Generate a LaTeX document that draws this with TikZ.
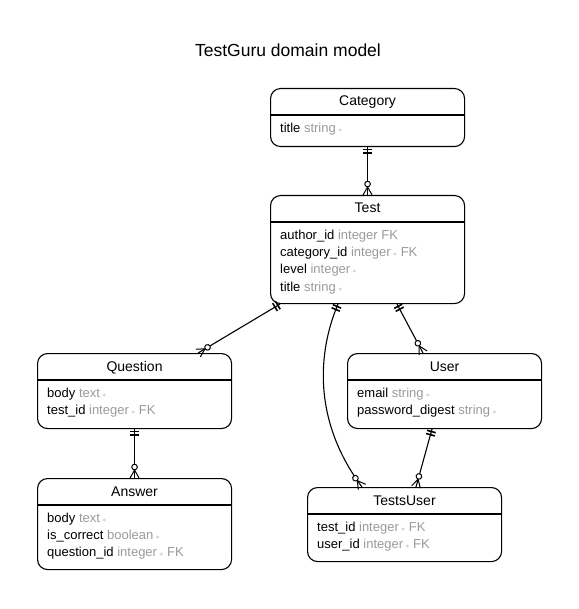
\documentclass[tikz,border=0pt]{standalone}
\usepackage{fontspec}
\setmainfont{Liberation Sans}
\usetikzlibrary{arrows.meta,positioning}

\definecolor{typegray}{HTML}{9A9A9A}
\definecolor{stargray}{HTML}{B0B0B0}

% crow's foot ends
\pgfdeclarearrow{
  name = onlyone,
  setup code = {
    \pgfarrowssettipend{0pt}
    \pgfarrowssetlineend{0pt}
    \pgfarrowssetbackend{-8pt}
    \pgfarrowshullpoint{0pt}{4.5pt}
    \pgfarrowshullpoint{0pt}{-4.5pt}
    \pgfarrowshullpoint{-8pt}{4.5pt}
    \pgfarrowshullpoint{-8pt}{-4.5pt}
  },
  drawing code = {
    \pgfsetlinewidth{1.6pt}
    \pgfsetbuttcap
    \pgfpathmoveto{\pgfqpoint{-2.5pt}{4.5pt}}
    \pgfpathlineto{\pgfqpoint{-2.5pt}{-4.5pt}}
    \pgfpathmoveto{\pgfqpoint{-5.8pt}{4.5pt}}
    \pgfpathlineto{\pgfqpoint{-5.8pt}{-4.5pt}}
    \pgfusepathqstroke
  }
}
\pgfdeclarearrow{
  name = zeromany,
  setup code = {
    \pgfarrowssettipend{0pt}
    \pgfarrowssetlineend{0pt}
    \pgfarrowssetbackend{-14pt}
    \pgfarrowshullpoint{0pt}{4.5pt}
    \pgfarrowshullpoint{0pt}{-4.5pt}
    \pgfarrowshullpoint{-14pt}{3pt}
    \pgfarrowshullpoint{-14pt}{-3pt}
  },
  drawing code = {
    \pgfsetlinewidth{1pt}
    \pgfsetmiterjoin
    \pgfpathmoveto{\pgfqpoint{0pt}{4.5pt}}
    \pgfpathlineto{\pgfqpoint{-8pt}{0pt}}
    \pgfpathlineto{\pgfqpoint{0pt}{-4.5pt}}
    \pgfusepathqstroke
    \pgfsetfillcolor{white}
    \pgfpathcircle{\pgfqpoint{-11pt}{0pt}}{2.8pt}
    \pgfusepathqfillstroke
  }
}

\tikzset{
  entity/.style={draw, line width=1.1pt, rounded corners=10pt, minimum width=194pt, inner sep=0pt, anchor=north west},
  ehead/.style={font=\fontsize{14}{16}\selectfont, anchor=base, inner sep=0pt},
  ebody/.style={font=\fontsize{13}{17.4}\selectfont, align=left, anchor=north west, inner sep=0pt},
  rel/.style={line width=1.1pt, onlyone-zeromany}
}

\newcommand{\ty}[1]{\textcolor{typegray}{#1}}
\newcommand{\req}{\,{\color{stargray}\fontsize{8}{8}\selectfont$\ast$}}
% name, top left, height, title, fields
\newcommand{\entity}[5]{%
  \node[entity, minimum height=#3pt] (#1) at (#2) {};
  \node[ehead] (#1-title) at ([yshift=-18pt]#1.north) {#4};
  \draw[line width=1.1pt] ([yshift=-27pt]#1.north west) -- ([yshift=-27pt]#1.north east);
  \node[ebody] (#1-fields) at ([xshift=10pt,yshift=-34.5pt]#1.north west) {#5};
}

\begin{document}
\begin{tikzpicture}[x=1pt,y=-1pt]
    \useasboundingbox (0,0) rectangle (578,609);
    \node[font=\fontsize{17.5}{20}\selectfont, anchor=base] (title) at (288,57) {TestGuru domain model};

    \entity{category}{270,88}{58}{Category}{title \ty{string\req}}
    \entity{test}{270,195}{108}{Test}{author\_id \ty{integer FK}\\
        category\_id \ty{integer\req{} FK}\\
        level \ty{integer\req}\\
        title \ty{string\req}}
    \entity{question}{37,353}{75}{Question}{body \ty{text\req}\\
        test\_id \ty{integer\req{} FK}}
    \entity{answer}{37,478}{91}{Answer}{body \ty{text\req}\\
        is\_correct \ty{boolean\req}\\
        question\_id \ty{integer\req{} FK}}
    \entity{user}{347,353}{75}{User}{email \ty{string\req}\\
        password\_digest \ty{string\req}}
    \entity{tsuser}{307,487}{74}{TestsUser}{test\_id \ty{integer\req{} FK}\\
        user\_id \ty{integer\req{} FK}}

    \draw[rel] (category.south) -- (test.north);
    \draw[rel] ([xshift=10pt]test.south west) -- ([xshift=-34pt]question.north east);
    \draw[rel] ([xshift=68pt]test.south west) .. controls +(-20,47) and +(-50,-67) .. ([xshift=55pt]tsuser.north west);
    \draw[rel] ([xshift=127pt]test.south west) -- ([xshift=76pt]user.north west);
    \draw[rel] ([xshift=85pt]user.south west) -- ([xshift=109pt]tsuser.north west);
    \draw[rel] (question.south) -- (answer.north);
\end{tikzpicture}
\end{document}
